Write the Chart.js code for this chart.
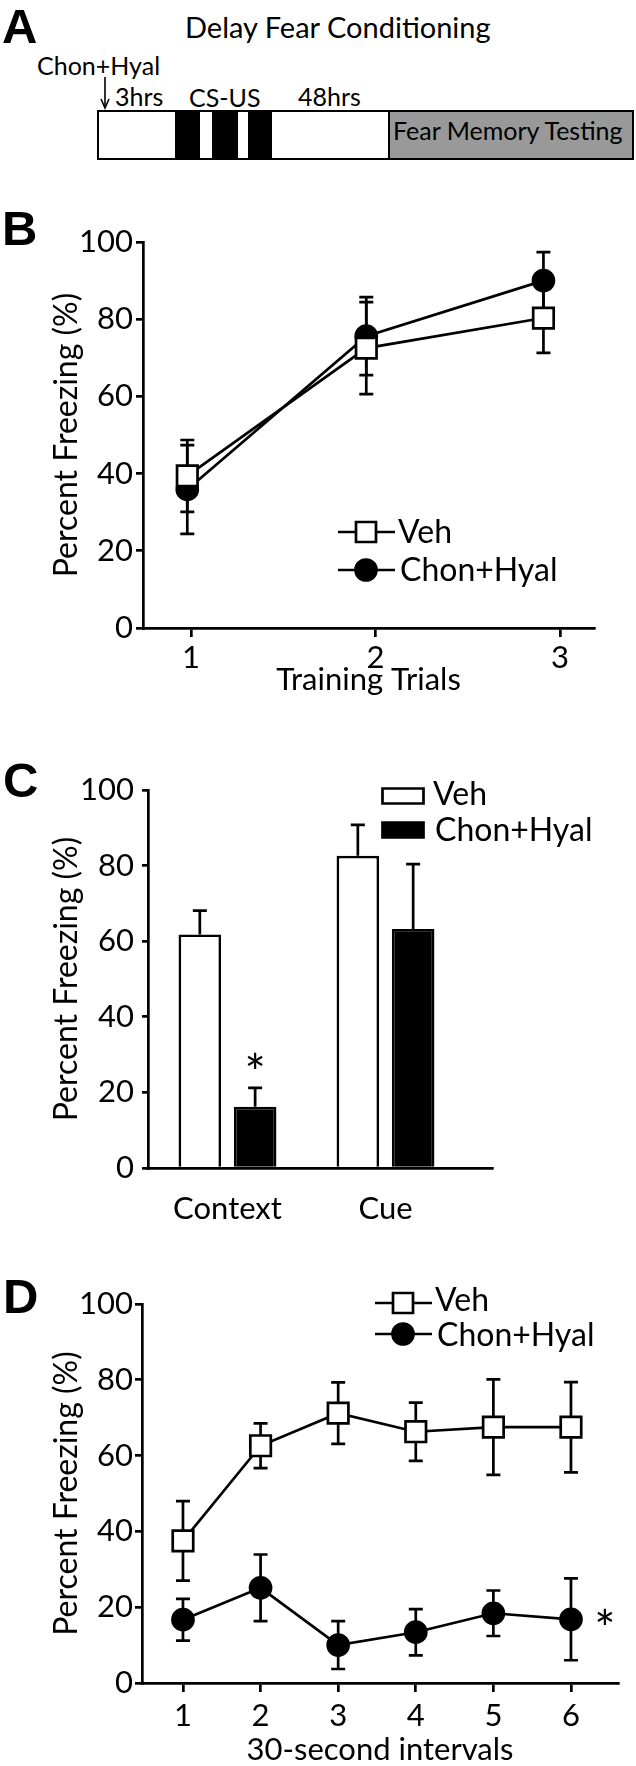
<!DOCTYPE html>
<html>
<head>
<meta charset="utf-8">
<title>Delay Fear Conditioning</title>
<script src="https://cdn.jsdelivr.net/npm/chart.js@4.4.1/dist/chart.umd.min.js"></script>
<style>
  html, body { margin: 0; padding: 0; background: #fff; }
  body { position: relative; width: 636px; height: 1766px; overflow: hidden; font-family: Lato, "Open Sans", sans-serif; color: #000; }
  .txt { position: absolute; line-height: 1; white-space: nowrap; }
  .letra { position: absolute; line-height: 1; font-family: "Liberation Sans", Arial, sans-serif; font-weight: bold; font-size: 49px; }
  .caja { position: absolute; box-sizing: border-box; }
  canvas { position: absolute; left: 0; }
</style>
</head>
<body>
<canvas id="graficoB" width="636" height="515" style="top:195px;width:636px;height:515px"></canvas>
<canvas id="graficoC" width="636" height="520" style="top:710px;width:636px;height:520px"></canvas>
<canvas id="graficoD" width="636" height="560" style="top:1230px;width:636px;height:560px"></canvas>

<!-- Panel A: esquema del protocolo -->
<div class="letra" style="left:2px;top:2px">A</div>
<div class="txt" style="left:185px;top:12px;font-size:29px">Delay Fear Conditioning</div>
<div class="txt" style="left:37px;top:53px;font-size:25px">Chon+Hyal</div>
<svg style="position:absolute;left:99px;top:76px" width="12" height="34"><line x1="6" y1="1" x2="6" y2="31" stroke="#000" stroke-width="1.6"/><polyline points="2,23 6,32 10,23" fill="none" stroke="#000" stroke-width="1.6"/></svg>
<div class="txt" style="left:115px;top:84px;font-size:25px">3hrs</div>
<div class="txt" style="left:189px;top:85px;font-size:25px">CS-US</div>
<div class="txt" style="left:298px;top:84px;font-size:25px">48hrs</div>
<div class="caja" style="left:97px;top:110px;width:537px;height:50px;border:2.7px solid #000;background:#fff"></div>
<div class="caja" style="left:175px;top:110px;width:25px;height:50px;background:#000"></div>
<div class="caja" style="left:212px;top:110px;width:26px;height:50px;background:#000"></div>
<div class="caja" style="left:248px;top:110px;width:24px;height:50px;background:#000"></div>
<div class="caja" style="left:388px;top:110px;width:246px;height:50px;border:2.7px solid #000;background:#999"></div>
<div class="txt" style="left:393px;top:118px;font-size:25px">Fear Memory Testing</div>

<div class="letra" style="left:2px;top:204px">B</div>
<div class="letra" style="left:3px;top:756px">C</div>
<div class="letra" style="left:3px;top:1272px">D</div>

<script>
// Datos del panel B (ensayos de entrenamiento)
var ensayos = [1, 2, 3];
var posicionesB = [0.98, 1.95, 2.91];
var vehB = [39.4, 72.5, 80.3];
var vehErrB = [9.3, 11.9, 9.0];
var chonB = [35.9, 75.6, 90.0];
var chonErrB = [11.5, 10.1, 7.4];

// Datos del panel C (contexto y clave)
var pruebas = ["Context", "Cue"];
var vehC = [61.8, 82.6];
var vehErrC = [6.3, 8.2];
var chonC = [16.2, 63.2];
var chonErrC = [5.0, 17.2];

// Datos del panel D (intervalos de 30 segundos)
var intervalos = [1, 2, 3, 4, 5, 6];
var vehD = [37.5, 62.6, 71.2, 66.3, 67.5, 67.5];
var vehErrD = [10.5, 5.9, 8.1, 7.7, 12.6, 11.9];
var chonD = [16.7, 25.1, 10.0, 13.4, 18.4, 16.8];
var chonErrD = [5.5, 8.8, 6.3, 6.1, 6.0, 10.8];

var ticksY = [0, 20, 40, 60, 80, 100];

Chart.defaults.font.family = 'Lato, "Open Sans", sans-serif';
Chart.defaults.color = "#000";

var GROSOR = 2.7;

function puntos(xs, ys) {
    return xs.map(function (x, i) { return { x: x, y: ys[i] }; });
}

// Barras de error dibujadas antes de los marcadores
var barrasError = {
    id: "barrasError",
    beforeDatasetsDraw: function (chart) {
        var ctx = chart.ctx;
        var escY = chart.scales.y;
        ctx.save();
        ctx.strokeStyle = "#000";
        ctx.lineWidth = GROSOR;
        chart.data.datasets.forEach(function (ds, i) {
            if (!ds.errores) return;
            var meta = chart.getDatasetMeta(i);
            meta.data.forEach(function (el, j) {
                var v = ds.data[j].y;
                var e = ds.errores[j];
                var yArriba = escY.getPixelForValue(v + e);
                var yAbajo = escY.getPixelForValue(ds.soloArriba ? v : v - e);
                var x = el.x;
                ctx.beginPath();
                ctx.moveTo(x, yAbajo);
                ctx.lineTo(x, yArriba);
                ctx.moveTo(x - 7, yArriba);
                ctx.lineTo(x + 7, yArriba);
                if (!ds.soloArriba) {
                    ctx.moveTo(x - 7, yAbajo);
                    ctx.lineTo(x + 7, yAbajo);
                }
                ctx.stroke();
            });
        });
        ctx.restore();
    }
};

// Leyenda dibujada a mano (marcador atravesado por la línea)
function crearLeyenda(items, arriba) {
    return {
        id: "leyendaRef",
        afterDraw: function (chart) {
            var ctx = chart.ctx;
            ctx.save();
            ctx.lineWidth = GROSOR;
            ctx.strokeStyle = "#000";
            items.forEach(function (it) {
                var y = it.y - arriba;
                if (it.tipo == "cuadro" || it.tipo == "circulo") {
                    ctx.beginPath();
                    ctx.moveTo(it.x - 28, y);
                    ctx.lineTo(it.x + 29, y);
                    ctx.stroke();
                }
                ctx.beginPath();
                if (it.tipo == "cuadro") {
                    ctx.rect(it.x - 10, y - 10, 20, 20);
                    ctx.fillStyle = "#fff";
                } else if (it.tipo == "circulo") {
                    ctx.arc(it.x, y, 10.5, 0, Math.PI * 2);
                    ctx.fillStyle = "#000";
                } else {
                    ctx.rect(it.x - 20.5, y - 7.5, 41, 15);
                    ctx.fillStyle = it.tipo == "barraBlanca" ? "#fff" : "#000";
                }
                ctx.fill();
                ctx.stroke();
                ctx.fillStyle = "#000";
                ctx.font = "32px Lato";
                ctx.textBaseline = "alphabetic";
                ctx.fillText(it.texto, it.xt, it.base - arriba);
            });
            ctx.restore();
        }
    };
}

// Asterisco de significancia colocado respecto a un dato
function crearAsterisco(indiceSerie, indiceDato, dx, dy) {
    return {
        id: "asterisco",
        afterDraw: function (chart) {
            var el = chart.getDatasetMeta(indiceSerie).data[indiceDato];
            var ds = chart.data.datasets[indiceSerie];
            var v = ds.data[indiceDato].y + (ds.soloArriba ? ds.errores[indiceDato] : 0);
            var ctx = chart.ctx;
            ctx.save();
            ctx.fillStyle = "#000";
            ctx.font = "50px Lato";
            ctx.textAlign = "center";
            ctx.textBaseline = "alphabetic";
            ctx.fillText("*", el.x + dx, chart.scales.y.getPixelForValue(v) + dy);
            ctx.restore();
        }
    };
}

function ejeY(ancho, largoTick, separacion, centroTitulo) {
    return {
        min: 0,
        max: 100,
        afterBuildTicks: function (s) { s.ticks = ticksY.map(function (v) { return { value: v }; }); },
        ticks: { padding: separacion, font: { size: 31 }, color: "#000" },
        grid: { drawOnChartArea: false, drawTicks: true, tickLength: largoTick, color: "#000", lineWidth: GROSOR },
        border: { display: true, color: "#000", width: GROSOR },
        title: { display: true, text: "Percent Freezing (%)", font: { size: 32 }, color: "#000", padding: { top: centroTitulo - 19.2, bottom: 0 } },
        afterFit: function (s) { s.width = ancho; }
    };
}

function ejeX(min, max, valores, etiquetas, alto, separacion, largoTick, titulo, bajoTitulo) {
    return {
        type: "linear",
        min: min,
        max: max,
        offset: false,
        afterBuildTicks: function (s) { s.ticks = valores.map(function (v) { return { value: v }; }); },
        ticks: {
            padding: separacion,
            font: { size: 31 },
            color: "#000",
            maxRotation: 0,
            callback: function (v) { return etiquetas ? etiquetas[valores.indexOf(v)] : v; }
        },
        grid: { display: largoTick > 0, offset: false, drawOnChartArea: false, tickLength: largoTick, color: "#000", lineWidth: GROSOR },
        border: { display: true, color: "#000", width: GROSOR },
        title: { display: !!titulo, text: titulo, font: { size: 31 }, color: "#000", padding: { top: 0, bottom: bajoTitulo } },
        afterFit: function (s) { s.height = alto; }
    };
}

function serieLinea(nombre, xs, ys, errs, estilo) {
    var cuadro = estilo == "cuadro";
    return {
        label: nombre,
        data: puntos(xs, ys),
        errores: errs,
        borderColor: "#000",
        borderWidth: GROSOR,
        pointStyle: cuadro ? "rect" : "circle",
        pointRadius: cuadro ? 14.5 : 10.5,
        pointBorderWidth: GROSOR,
        pointBackgroundColor: cuadro ? "#fff" : "#000",
        pointBorderColor: "#000",
        tension: 0,
        clip: false
    };
}

// Panel B
new Chart(document.getElementById("graficoB"), {
    type: "line",
    data: {
        datasets: [
            serieLinea("Veh", posicionesB, vehB, vehErrB, "cuadro"),
            serieLinea("Chon+Hyal", posicionesB, chonB, chonErrB, "circulo")
        ]
    },
    options: {
        responsive: false,
        animation: false,
        devicePixelRatio: 1,
        layout: { padding: { left: 0, right: 42, top: 47, bottom: 0 } },
        plugins: { legend: { display: false }, tooltip: { enabled: false } },
        scales: {
            x: ejeX(0.74, 3.184, ensayos, null, 82, 2, 9, "Training Trials", 11),
            y: ejeY(143, 7, 3, 67)
        }
    },
    plugins: [barrasError, crearLeyenda([
        { tipo: "cuadro", x: 366, y: 532, texto: "Veh", xt: 398, base: 543 },
        { tipo: "circulo", x: 366, y: 570, texto: "Chon+Hyal", xt: 400, base: 581 }
    ], 195)]
});

// Panel C
new Chart(document.getElementById("graficoC"), {
    type: "bar",
    data: {
        datasets: [
            {
                label: "Veh",
                data: puntos([1, 2], vehC),
                errores: vehErrC,
                soloArriba: true,
                backgroundColor: "#fff",
                borderColor: "#000",
                borderWidth: GROSOR,
                categoryPercentage: 0.7,
                barPercentage: 0.77
            },
            {
                label: "Chon+Hyal",
                data: puntos([1, 2], chonC),
                errores: chonErrC,
                soloArriba: true,
                backgroundColor: "#000",
                borderColor: "#000",
                borderWidth: GROSOR,
                categoryPercentage: 0.7,
                barPercentage: 0.77
            }
        ]
    },
    options: {
        responsive: false,
        animation: false,
        devicePixelRatio: 1,
        layout: { padding: { left: 0, right: 144, top: 80, bottom: 0 } },
        plugins: { legend: { display: false }, tooltip: { enabled: false } },
        scales: {
            x: ejeX(0.497, 2.674, [1, 2], pruebas, 62, 22, 0, "", 0),
            y: ejeY(148, 6, 8, 67)
        }
    },
    plugins: [barrasError, crearAsterisco(1, 0, 0, 3), crearLeyenda([
        { tipo: "barraBlanca", x: 403, y: 796, texto: "Veh", xt: 433, base: 805 },
        { tipo: "barraNegra", x: 403, y: 830, texto: "Chon+Hyal", xt: 435, base: 841 }
    ], 710)]
});

// Panel D
new Chart(document.getElementById("graficoD"), {
    type: "line",
    data: {
        datasets: [
            serieLinea("Veh", intervalos, vehD, vehErrD, "cuadro"),
            serieLinea("Chon+Hyal", intervalos, chonD, chonErrD, "circulo")
        ]
    },
    options: {
        responsive: false,
        animation: false,
        devicePixelRatio: 1,
        layout: { padding: { left: 0, right: 18, top: 74, bottom: 0 } },
        plugins: { legend: { display: false }, tooltip: { enabled: false } },
        scales: {
            x: ejeX(0.472, 6.606, intervalos, null, 107, 5, 9, "30-second intervals", 21),
            y: ejeY(142, 7, 2, 67)
        }
    },
    plugins: [barrasError, crearAsterisco(1, 5, 34, 28), crearLeyenda([
        { tipo: "cuadro", x: 403, y: 1303, texto: "Veh", xt: 435, base: 1311 },
        { tipo: "circulo", x: 403, y: 1334, texto: "Chon+Hyal", xt: 437, base: 1346 }
    ], 1230)]
});
</script>
</body>
</html>
